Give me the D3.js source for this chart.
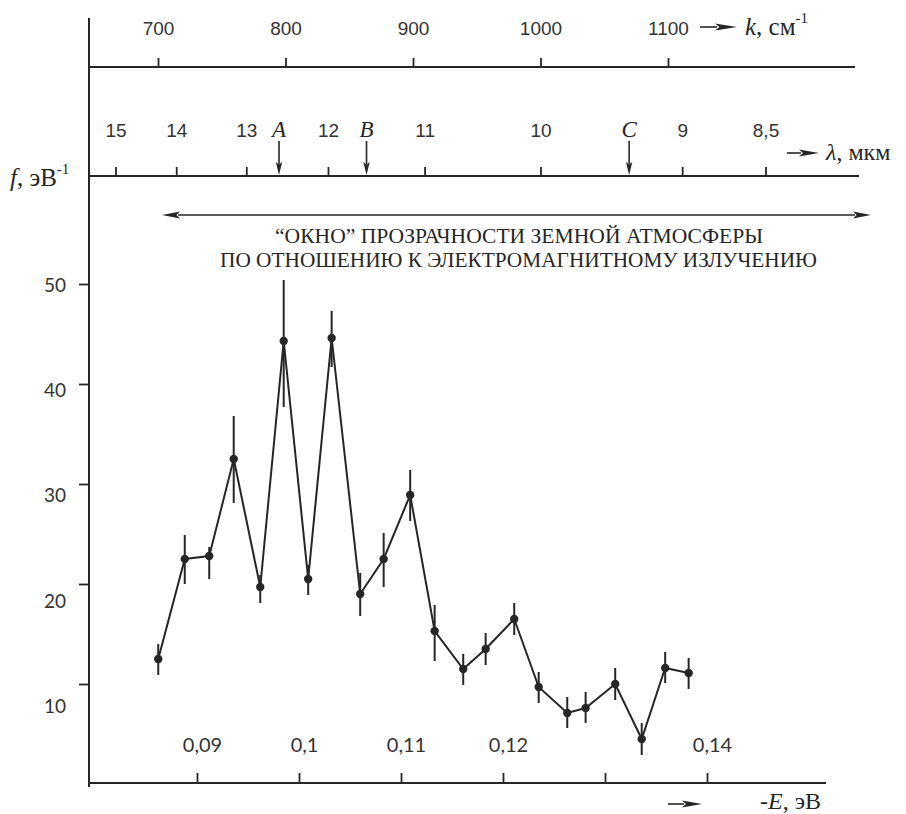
<!DOCTYPE html>
<html>
<head>
<meta charset="utf-8">
<script src="https://cdn.jsdelivr.net/npm/d3@7"></script>
<style>
  body { margin: 0; background: #fff; }
  svg { display: block; }
</style>
</head>
<body>
<div id="chart"></div>
<script>
// top scale, wavenumber k (cm-1)
const kTicks = [700, 800, 900, 1000, 1100];
// wavelength lambda (mkm), placed at k = 10000 / lambda
const lamTicks = [15, 14, 13, 12, 11, 10, 9, 8.5];
const markNames = ["A", "B", "C"];
const markLambda = [12.58, 11.58, 9.35];
// bottom scale, -E (eV)
const eTicks = [0.09, 0.10, 0.11, 0.12, 0.13, 0.14];
const eLabels = ["0,09", "0,1", "0,11", "0,12", "", "0,14"];
// f (eV-1)
const fTicks = [10, 20, 30, 40, 50];

// measured points
const energy = [0.0862, 0.0888, 0.0912, 0.0936, 0.0962, 0.0985, 0.1009, 0.1032, 0.1060, 0.1083, 0.1109,
  0.1133, 0.1161, 0.1183, 0.1211, 0.1235, 0.1263, 0.1281, 0.1310, 0.1336, 0.1359, 0.1382];
const fValue = [12.5, 22.5, 22.8, 32.5, 19.7, 44.3, 20.5, 44.6, 19.0, 22.5, 28.9,
  15.3, 11.5, 13.5, 16.5, 9.7, 7.1, 7.6, 10.0, 4.5, 11.6, 11.1];
const fLow = [10.9, 20.0, 20.5, 28.1, 18.1, 37.7, 18.9, 41.7, 16.8, 19.7, 26.3,
  12.3, 9.9, 11.9, 14.9, 8.1, 5.6, 6.1, 8.4, 2.9, 10.1, 9.5];
const fHigh = [14.0, 24.9, 23.7, 36.8, 20.9, 50.4, 21.9, 47.3, 21.1, 25.1, 31.4,
  17.9, 13.0, 15.1, 18.1, 11.2, 8.7, 9.2, 11.6, 6.1, 13.2, 12.6];

const width = 906, height = 814;
const axisX = 89;
const ink = "#262626";
const serifFont = "Liberation Serif, Times New Roman, serif";
const numFont = "Lato, DejaVu Sans, sans-serif";
const topFont = "Liberation Sans, Arial, sans-serif";

const kScale = d3.scaleLinear().domain([700, 1100]).range([158, 668]);
const eScale = d3.scaleLinear().domain([0.09, 0.14]).range([197, 707]);
const fScale = d3.scaleLinear().domain([10, 50]).range([684, 284]);
// the printed tick numbers sit slightly lower than the ticks themselves
const fLabelScale = d3.scaleLinear().domain([10, 50]).range([706, 285]);

const svg = d3.select("#chart").append("svg")
  .attr("width", width)
  .attr("height", height);

svg.append("rect").attr("width", width).attr("height", height).attr("fill", "#fff");

// filled arrow: thin shaft plus long narrow head
function arrow(x1, y1, x2, y2, headLen, headW, sw) {
  const dx = x2 - x1, dy = y2 - y1;
  const len = Math.hypot(dx, dy);
  const ux = dx / len, uy = dy / len;
  const bx = x2 - ux * headLen, by = y2 - uy * headLen;
  svg.append("line")
    .attr("x1", x1).attr("y1", y1).attr("x2", bx + ux * 2).attr("y2", by + uy * 2)
    .attr("stroke", ink).attr("stroke-width", sw);
  svg.append("path")
    .attr("d", `M${x2},${y2}L${bx - uy * headW},${by + ux * headW}L${bx + ux * headLen * 0.2},${by + uy * headLen * 0.2}L${bx + uy * headW},${by - ux * headW}Z`)
    .attr("fill", ink);
}

function serifText(x, y, size) {
  return svg.append("text")
    .attr("x", x).attr("y", y)
    .attr("font-family", serifFont)
    .attr("font-size", size)
    .attr("fill", ink);
}

// d3.axis writes its own font attrs, so set ours afterwards
function styleAxis(g, font, size) {
  g.select(".domain").remove();
  g.selectAll(".tick line").attr("stroke", ink).attr("stroke-width", 1.8);
  g.attr("font-family", font).attr("font-size", size);
  g.selectAll(".tick text").attr("fill", "#333");
}

// vertical axis line
svg.append("line")
  .attr("x1", axisX).attr("x2", axisX).attr("y1", 18).attr("y2", 787)
  .attr("stroke", ink).attr("stroke-width", 2);

// k axis
svg.append("line").attr("x1", axisX).attr("x2", 855).attr("y1", 67).attr("y2", 67)
  .attr("stroke", ink).attr("stroke-width", 2);
svg.append("g")
  .attr("transform", "translate(0,67)")
  .call(d3.axisTop(kScale).tickValues(kTicks).tickSize(9).tickPadding(23).tickFormat(d3.format("d")))
  .call(styleAxis, topFont, 19);

arrow(700, 27, 737, 27, 22, 3.6, 1.6);
const kLab = serifText(745, 35, 25);
kLab.append("tspan").attr("font-style", "italic").text("k");
kLab.append("tspan").text(", см");
kLab.append("tspan").attr("font-size", 15).attr("dy", -12).text("-1");

// lambda axis
svg.append("line").attr("x1", axisX).attr("x2", 859).attr("y1", 176).attr("y2", 176)
  .attr("stroke", ink).attr("stroke-width", 2);
svg.append("g")
  .attr("transform", "translate(0,176)")
  .call(d3.axisTop(kScale).tickValues(lamTicks.map(l => 1e4 / l)).tickSize(9).tickPadding(30)
    .tickFormat(k => String(+(1e4 / k).toFixed(1)).replace(".", ",")))
  .call(styleAxis, topFont, 19);

markLambda.forEach((l, i) => {
  const x = kScale(1e4 / l);
  arrow(x, 141, x, 175, 13, 3.2, 1.6);
  serifText(x, 137, 23)
    .attr("text-anchor", "middle")
    .attr("font-style", "italic")
    .text(markNames[i]);
});

arrow(787, 153, 819, 153, 20, 3.4, 1.6);
const lLab = serifText(826, 160, 24);
lLab.append("tspan").attr("font-style", "italic").text("λ");
lLab.append("tspan").text(", мкм");

// f label
const fLab = serifText(10, 186, 25);
fLab.append("tspan").attr("font-style", "italic").text("f");
fLab.append("tspan").text(", эВ");
fLab.append("tspan").attr("font-size", 15).attr("dy", -12).text("-1");

// transparency window
arrow(500, 215, 871, 215, 18, 3.6, 1.5);
arrow(500, 215, 162, 215, 18, 3.6, 1.5);
serifText(275, 243, 21)
  .attr("textLength", 488).attr("lengthAdjust", "spacingAndGlyphs")
  .text("“ОКНО” ПРОЗРАЧНОСТИ ЗЕМНОЙ АТМОСФЕРЫ");
serifText(220, 267, 21)
  .attr("textLength", 597).attr("lengthAdjust", "spacingAndGlyphs")
  .text("ПО ОТНОШЕНИЮ К ЭЛЕКТРОМАГНИТНОМУ ИЗЛУЧЕНИЮ");

// y axis ticks
svg.append("g")
  .attr("transform", `translate(${axisX},0)`)
  .call(d3.axisLeft(fScale).tickValues(fTicks).tickSize(10).tickFormat(""))
  .call(styleAxis, numFont, 19);
svg.append("g").selectAll("text")
  .data(fTicks)
  .join("text")
  .attr("x", 66)
  .attr("y", d => fLabelScale(d))
  .attr("dy", "0.36em")
  .attr("text-anchor", "end")
  .attr("font-family", numFont).attr("font-size", 19).attr("fill", "#333")
  .text(d => d);

// energy axis
svg.append("line").attr("x1", axisX).attr("x2", 826).attr("y1", 783).attr("y2", 783)
  .attr("stroke", ink).attr("stroke-width", 2);
svg.append("g")
  .attr("transform", "translate(0,783)")
  .call(d3.axisTop(eScale).tickValues(eTicks).tickSize(10).tickPadding(21).tickFormat((d, i) => eLabels[i]))
  .call(styleAxis, numFont, 20)
  .selectAll(".tick text")
  .attr("dx", 5);

arrow(668, 804, 702, 804, 20, 3.4, 1.6);
const eLab = serifText(760, 809, 24);
eLab.append("tspan").attr("font-style", "italic").text("-E");
eLab.append("tspan").text(", эВ");

// data
const points = energy.map((e, i) => ({ e, f: fValue[i], lo: fLow[i], hi: fHigh[i] }));

svg.append("g").selectAll("line")
  .data(points)
  .join("line")
  .attr("x1", d => eScale(d.e)).attr("x2", d => eScale(d.e))
  .attr("y1", d => fScale(d.hi)).attr("y2", d => fScale(d.lo))
  .attr("stroke", ink).attr("stroke-width", 2);

svg.append("path")
  .datum(points)
  .attr("fill", "none")
  .attr("stroke", ink)
  .attr("stroke-width", 2)
  .attr("d", d3.line().x(d => eScale(d.e)).y(d => fScale(d.f)));

svg.append("g").selectAll("circle")
  .data(points)
  .join("circle")
  .attr("cx", d => eScale(d.e))
  .attr("cy", d => fScale(d.f))
  .attr("r", 4.2)
  .attr("fill", ink);
</script>
</body>
</html>
